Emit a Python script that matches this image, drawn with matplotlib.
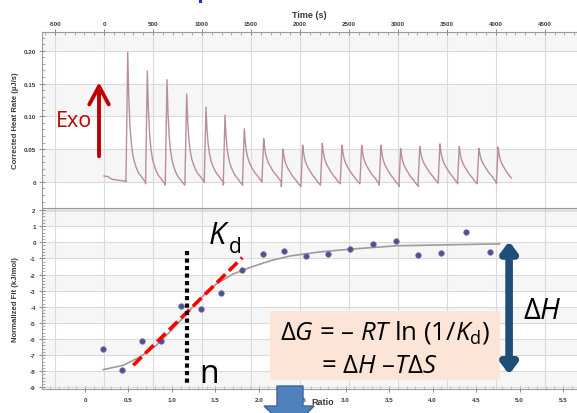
import matplotlib
matplotlib.use("Agg")
import matplotlib.pyplot as plt
from matplotlib import transforms
from matplotlib.patches import FancyArrowPatch, Polygon, Rectangle
from matplotlib.ticker import FuncFormatter, MultipleLocator

plt.rcParams["font.family"] = ["Liberation Sans", "DejaVu Sans"]
plt.rcParams["axes.unicode_minus"] = False
plt.rcParams["lines.scale_dashes"] = False
plt.rcParams["mathtext.fontset"] = "custom"
plt.rcParams["mathtext.rm"] = "Open Sans"
plt.rcParams["mathtext.it"] = "Open Sans:italic"

# raw thermogram
pre_times = [0, 40, 80, 120, 170, 220]
pre_values = [0.009, 0.008, 0.004, 0.003, 0.002, 0.001]
inj_times = [242, 442, 643, 844, 1041, 1235, 1432, 1630, 1827, 2028,
             2228, 2429, 2630, 2827, 3028, 3224, 3429, 3626, 3827, 4023]
peak_heights = [0.198, 0.169, 0.156, 0.134, 0.114, 0.102, 0.081, 0.066, 0.050, 0.056,
                0.059, 0.056, 0.056, 0.056, 0.051, 0.054, 0.058, 0.054, 0.051, 0.053]
baselines = [0.0, -0.003, -0.005, 0.0, -0.001, -0.005, 0.0, 0.0, -0.007, -0.005,
             -0.003, -0.003, -0.003, -0.005, -0.007, -0.001, -0.002, -0.003, -0.001, -0.003]
# each peak = fast spike (fraction of peak) + slow tail (uJ/s), s after injection
pulse_offset = [-18, 0, 10, 22, 36, 52, 70, 90, 112, 135, 158, 182]
pulse_fast = [0.0, 1.0, 0.62, 0.36, 0.2, 0.1, 0.05, 0.02, 0.0, 0.0, 0.0, 0.0]
pulse_tail = [0.0, 0.028, 0.028, 0.027, 0.026, 0.024, 0.021, 0.017, 0.013, 0.009, 0.004, 0.0]
last_pulse_end = 150

# integrated, normalised heats (lower panel)
ratio = [0.21, 0.43, 0.65, 0.88, 1.10, 1.33, 1.56, 1.81, 2.05, 2.29,
         2.54, 2.80, 3.05, 3.31, 3.58, 3.83, 4.10, 4.38, 4.66]
norm_fit = [-6.6, -7.9, -6.1, -6.15, -3.97, -4.14, -3.13, -1.73, -0.74, -0.56,
            -0.86, -0.70, -0.43, -0.12, 0.08, -0.80, -0.64, 0.66, -0.58]
fit_ratio = [0.21, 0.44, 0.63, 0.82, 1.01, 1.17, 1.32, 1.51, 1.70, 1.90,
             2.13, 2.36, 2.70, 3.05, 3.58, 4.15, 4.77]
fit_value = [-7.9, -7.63, -7.12, -6.4, -5.37, -4.44, -3.52, -2.59, -1.98, -1.56,
             -1.15, -0.85, -0.6, -0.43, -0.22, -0.16, -0.1]

top_yticks = [0, 0.05, 0.10, 0.15, 0.20]
top_ylabels = ["0", "0.05", "0.10", "0.15", "0.20"]

TICK_FONT = dict(fontsize=4.5, fontweight="bold", color="#3a3a3a")
LABEL_FONT = dict(fontsize=5.6, fontweight="bold", color="#3a3a3a")
GRID = "#dadada"
BAND = "#f6f6f6"
SPINE = "#9a9a9a"


def build_trace():
    times = list(pre_times)
    values = list(pre_values)
    n = len(inj_times)
    tail_peak = max(pulse_tail)
    for i, (t0, h, b) in enumerate(zip(inj_times, peak_heights, baselines)):
        for off, fast, tail in zip(pulse_offset, pulse_fast, pulse_tail):
            if i == n - 1 and off > last_pulse_end:
                break
            times.append(t0 + off)
            values.append(b * (1 - fast) + (h - tail_peak) * fast + tail)
    return times, values


def style_axis(ax):
    ax.set_facecolor("none")
    for side in ("top", "bottom", "left", "right"):
        ax.spines[side].set_color(SPINE)
        ax.spines[side].set_linewidth(0.8)
    ax.spines["right"].set_visible(False)
    ax.tick_params(which="major", direction="inout", length=5, width=0.6, color="#777777")
    ax.tick_params(which="minor", direction="in", length=2.5, width=0.5, color="#888888")
    for lab in ax.get_xticklabels() + ax.get_yticklabels():
        lab.set(**TICK_FONT)


fig = plt.figure(figsize=(5.77, 4.14), dpi=100)
ax_top = fig.add_axes([0.0728, 0.495, 0.927, 0.425])
ax_bot = fig.add_axes([0.0728, 0.058, 0.927, 0.437])

# ---- upper panel: thermogram ----
ax_top.set_xlim(-633, 4827)
ax_top.set_ylim(-0.040, 0.2285)
for lo, hi in [(0.20, 0.2285), (0.10, 0.15), (0.0, 0.05)]:
    ax_top.axhspan(lo, hi, color=BAND, zorder=0, lw=0)
ax_top.xaxis.tick_top()
ax_top.xaxis.set_label_position("top")
ax_top.xaxis.set_major_locator(MultipleLocator(500))
ax_top.xaxis.set_minor_locator(MultipleLocator(100))
ax_top.set_yticks(top_yticks)
ax_top.set_yticklabels(top_ylabels)
ax_top.yaxis.set_minor_locator(MultipleLocator(0.01))
ax_top.grid(which="major", color=GRID, lw=0.8, zorder=0.5)
ax_top.spines["bottom"].set_visible(False)
ax_top.tick_params(axis="x", pad=2)
ax_top.tick_params(axis="y", pad=2)
ax_top.set_xlabel("Time (s)", labelpad=3, fontsize=6.5, fontweight="bold", color="#3a3a3a")
ax_top.set_ylabel("Corrected Heat Rate (µJ/s)", **LABEL_FONT)
ax_top.yaxis.set_label_coords(-0.043, 0.5)
style_axis(ax_top)

t, q = build_trace()
ax_top.plot(t, q, color="#b98f96", lw=1.0, zorder=3)

ax_top.add_patch(FancyArrowPatch((-51, 0.039), (-51, 0.152),
                                 arrowstyle="->,head_length=13,head_width=7",
                                 mutation_scale=1, lw=2.8, color="#c00000",
                                 shrinkA=0, shrinkB=0, zorder=4))
ax_top.text(-118, 0.093, "Exo", ha="right", va="center", fontsize=15.5,
            color="#c00000", family=["Open Sans", "DejaVu Sans"], zorder=4)

# ---- lower panel: binding isotherm ----
ax_bot.set_xlim(-0.495, 5.66)
ax_bot.set_ylim(-9.1, 2.12)
for lo in range(-9, 2, 2):
    ax_bot.axhspan(lo, lo + 1, color=BAND, zorder=0, lw=0)
ax_bot.xaxis.set_major_locator(MultipleLocator(0.5))
ax_bot.xaxis.set_minor_locator(MultipleLocator(0.1))
ax_bot.xaxis.set_major_formatter(FuncFormatter(lambda v, p: "0" if abs(v) < 1e-9 else f"{v:.1f}"))
ax_bot.yaxis.set_major_locator(MultipleLocator(1))
ax_bot.yaxis.set_minor_locator(MultipleLocator(0.2))
ax_bot.yaxis.grid(True, which="major", color=GRID, lw=0.8, zorder=0.5)
ax_bot.axhline(2, color="#8c8c8c", lw=1.0, zorder=1)
ax_bot.tick_params(axis="x", pad=3.5)
ax_bot.tick_params(axis="y", pad=2)
ax_bot.set_xlabel("Ratio", labelpad=0, fontsize=6.5, fontweight="bold", color="#3a3a3a")
ax_bot.xaxis.set_label_coords(0.525, -0.045)
ax_bot.set_ylabel("Normalized Fit (kJ/mol)", **LABEL_FONT)
ax_bot.yaxis.set_label_coords(-0.043, 0.5)
style_axis(ax_bot)

# vertical grid continues from the time axis
blend = transforms.blended_transform_factory(ax_top.transData, ax_bot.transAxes)
for tick in ax_top.get_xticks():
    ax_bot.plot([tick, tick], [0, 1], transform=blend, color=GRID, lw=0.8, zorder=0.5)

ax_bot.plot(fit_ratio, fit_value, color="#9c9c9c", lw=1.2, zorder=3)
ax_bot.plot(ratio, norm_fit, "o", color="#50508e", ms=4.0, mec="#7272aa", mew=0.5, zorder=4)

# annotations
ax_bot.plot([0.555, 1.81], [-7.63, -0.95], color="#ff0000", lw=2.6,
            dashes=(8.5, 3.6), solid_capstyle="butt", zorder=5)
ax_bot.plot([1.176, 1.176], [-0.54, -8.9], color="black", lw=3.0,
            dashes=(3.0, 2.4), zorder=5)
ANN_FONT = ["Open Sans", "DejaVu Sans"]
ax_bot.text(1.42, -0.06, "K", fontsize=22, style="italic", family=ANN_FONT,
            ha="left", va="baseline", zorder=6)
ax_bot.text(1.65, -0.62, "d", fontsize=15, family=ANN_FONT, ha="left", va="baseline", zorder=6)
ax_bot.text(1.32, -8.64, "n", fontsize=23, family=ANN_FONT, ha="left", va="baseline", zorder=6)

ax_bot.add_patch(Rectangle((2.13, -8.56), 2.65, 4.32, facecolor="#fce4d6", edgecolor="none", zorder=5))
ax_bot.text(3.45, -5.99, r"$\mathit{ΔG}$ = – $\mathit{RT}$ ln (1/$\mathit{K}_{\mathrm{d}}$)",
            fontsize=18.5, family=ANN_FONT, ha="center", va="baseline", zorder=6)
ax_bot.text(3.39, -8.02, r"= $\mathit{ΔH}$ –$\mathit{TΔS}$",
            fontsize=18.5, family=ANN_FONT, ha="center", va="baseline", zorder=6)

ax_bot.add_patch(FancyArrowPatch((4.88, -8.2), (4.88, 0.06),
                                 arrowstyle="<|-|>,head_length=6,head_width=4.5",
                                 mutation_scale=1, lw=5.5, color="#1f4e79",
                                 shrinkA=0, shrinkB=0, zorder=6))
ax_bot.text(5.26, -4.7, r"Δ$\mathit{H}$", fontsize=21, family=ANN_FONT,
            ha="center", va="baseline", zorder=6)

# block arrow running off the bottom edge and a stray blue mark at the top
W, H = 577.0, 414.0
block = [(277, 387), (303, 387), (303, 407), (314, 407), (290, 432), (264, 407), (277, 407)]
fig.add_artist(Polygon([(x / W, 1 - y / H) for x, y in block], closed=True,
                       facecolor="#4f81bd", edgecolor="#3a6697", lw=1.0,
                       transform=fig.transFigure, zorder=10))
fig.add_artist(Rectangle((199 / W, 1 - 4 / H), 2.5 / W, 4 / H, facecolor="#1030e0",
                         edgecolor="none", transform=fig.transFigure, zorder=10))

fig.savefig("out.png", dpi=100)
